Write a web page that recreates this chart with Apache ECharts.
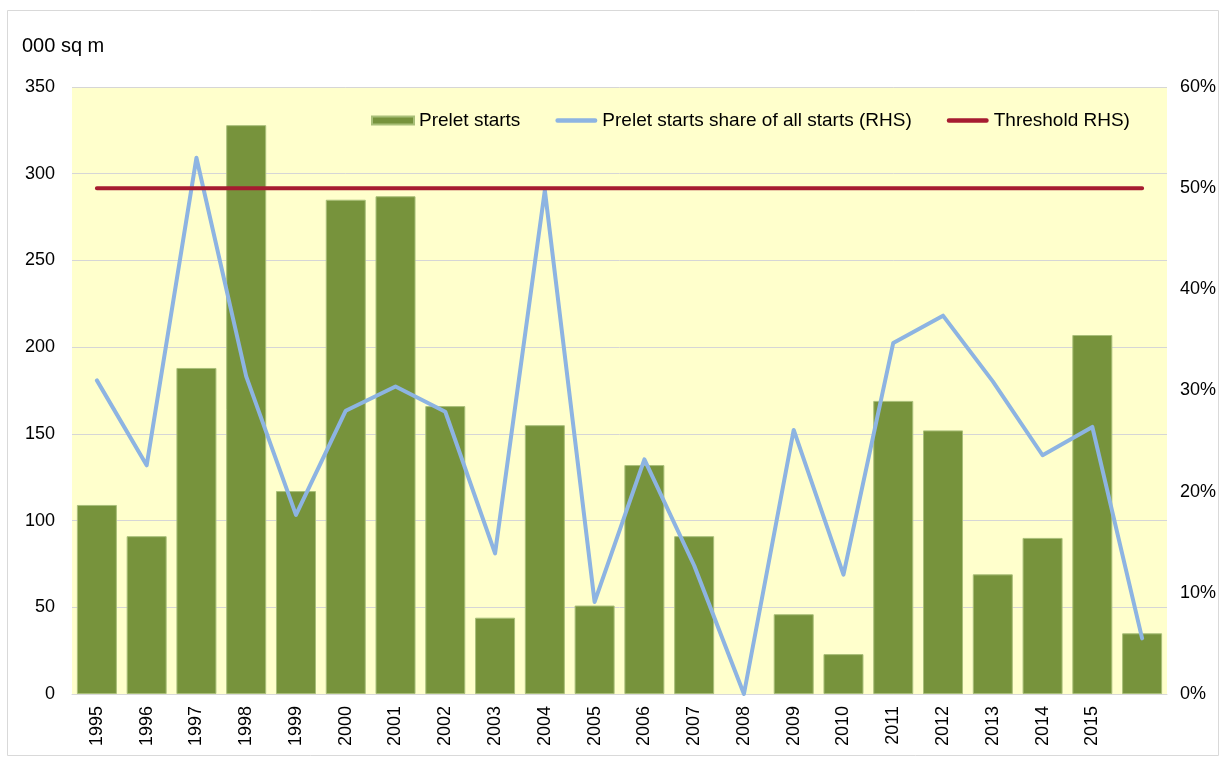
<!DOCTYPE html>
<html>
<head>
<meta charset="utf-8">
<script src="https://cdn.jsdelivr.net/npm/echarts@6/dist/echarts.min.js"></script>
<style>
  html, body { margin: 0; padding: 0; background: #ffffff; }
  #chart { width: 1227px; height: 763px; }
</style>
</head>
<body>
<div id="chart"></div>
<script>
// Years on the category axis (last column carries no label)
const years = ['1995','1996','1997','1998','1999','2000','2001','2002','2003','2004','2005',
               '2006','2007','2008','2009','2010','2011','2012','2013','2014','2015',''];

// Prelet starts, 000 sq m
const preletStarts = [109, 91, 188, 328, 117, 285, 287, 166, 44, 155, 51,
                      132, 91, 0, 46, 23, 169, 152, 69, 90, 207, 35];

// Prelet starts as a share of all starts (right-hand scale)
const preletShare = [0.310, 0.226, 0.530, 0.314, 0.177, 0.280, 0.304, 0.279, 0.139, 0.498, 0.091,
                     0.232, 0.127, 0.000, 0.261, 0.118, 0.347, 0.374, 0.309, 0.236, 0.264, 0.055];

// Threshold on the right-hand scale
const thresholdShare = years.map(() => 0.50);

// Axis tick settings
const leftMax = 350, leftStep = 50;
const rightMax = 0.6, rightStep = 0.1;

const FONT = 'Liberation Sans, Arial, sans-serif';

// Legend swatch for the line series: a thin round-ended stroke inside the 42x8 box
// (the two tiny corner specks keep the full box as the path's bounds)
const LINE_ICON = 'path://M0,0L0.01,0L0.01,0.01Z M42,8L41.99,8L41.99,7.99Z ' +
                  'M2.2,1.8L39.8,1.8A2.2,2.2 0 0 1 39.8,6.2L2.2,6.2A2.2,2.2 0 0 1 2.2,1.8Z';

// Empty years get no bar outline
const barData = preletStarts.map(v => v === 0 ? { value: v, itemStyle: { borderWidth: 0 } } : v);

const chart = echarts.init(document.getElementById('chart'), null, { renderer: 'canvas' });

chart.setOption({
  backgroundColor: '#ffffff',
  animation: false,
  textStyle: { fontFamily: FONT },
  graphic: [
    {
      type: 'rect',
      shape: { x: 7.5, y: 10.5, width: 1211, height: 745 },
      style: { fill: 'none', stroke: '#d9d9d9', lineWidth: 1 },
      silent: true, z: -10
    },
    {
      type: 'text',
      left: 22, top: 36,
      style: { text: '000 sq m', font: '20px ' + FONT, fill: '#000000' }
    }
  ],
  grid: {
    left: 72, right: 60, top: 87, bottom: 69,
    show: true, backgroundColor: '#FFFFCC', borderWidth: 0
  },
  legend: {
    top: 106, left: 366,
    itemWidth: 42, itemHeight: 8, itemGap: 35,
    textStyle: { fontSize: 19, color: '#000000', fontFamily: FONT },
    data: [
      { name: 'Prelet starts', icon: 'rect' },
      { name: 'Prelet starts share of all starts (RHS)', icon: LINE_ICON },
      { name: 'Threshold RHS)', icon: LINE_ICON }
    ]
  },
  xAxis: {
    type: 'category',
    data: years,
    axisLine: { show: true, lineStyle: { color: '#d9d9d9', width: 1 } },
    axisTick: { show: false },
    axisLabel: { rotate: 90, fontSize: 18, color: '#000000', margin: 12, interval: 0, fontFamily: FONT }
  },
  yAxis: [
    {
      type: 'value', min: 0, max: leftMax, interval: leftStep,
      axisLine: { show: false }, axisTick: { show: false },
      splitLine: { show: true, lineStyle: { color: '#d6d6d6', width: 1 } },
      axisLabel: { fontSize: 18, color: '#000000', margin: 17, fontFamily: FONT }
    },
    {
      type: 'value', min: 0, max: rightMax, interval: rightStep,
      axisLine: { show: false }, axisTick: { show: false },
      splitLine: { show: false },
      axisLabel: {
        fontSize: 18, color: '#000000', margin: 13, fontFamily: FONT,
        formatter: v => Math.round(v * 100) + '%'
      }
    }
  ],
  series: [
    {
      name: 'Prelet starts',
      type: 'bar',
      data: barData,
      barWidth: 40,
      itemStyle: { color: '#77933C', borderColor: '#a9bf78', borderWidth: 1 },
      z: 2
    },
    {
      name: 'Prelet starts share of all starts (RHS)',
      type: 'line',
      yAxisIndex: 1,
      data: preletShare,
      symbol: 'none',
      lineStyle: { color: '#8DB4E2', width: 4, cap: 'round', join: 'round' },
      itemStyle: { color: '#8DB4E2' },
      z: 3
    },
    {
      name: 'Threshold RHS)',
      type: 'line',
      yAxisIndex: 1,
      data: thresholdShare,
      symbol: 'none',
      lineStyle: { color: '#A61C30', width: 4, cap: 'round' },
      itemStyle: { color: '#A61C30' },
      z: 4
    }
  ]
});
</script>
</body>
</html>
